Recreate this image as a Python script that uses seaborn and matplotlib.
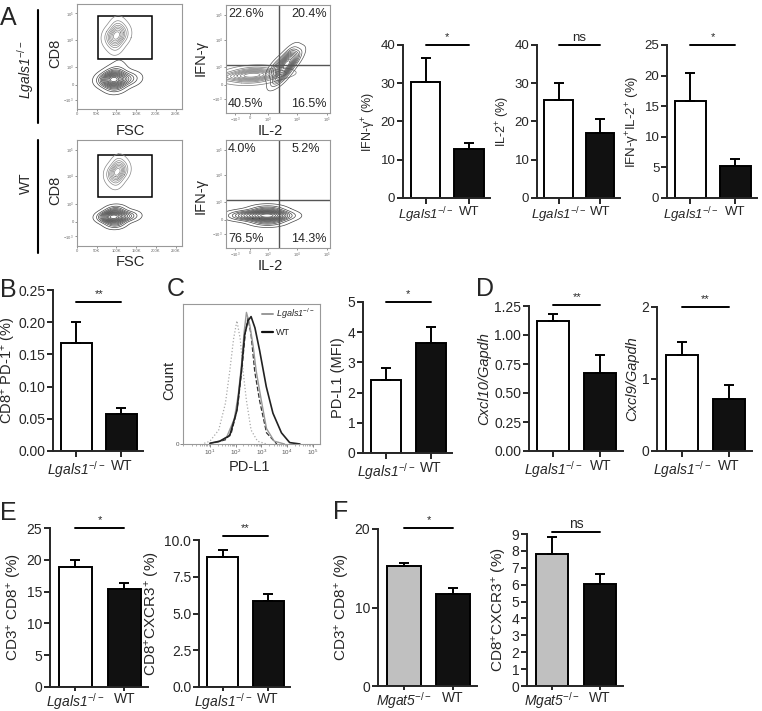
import numpy as np
import pandas as pd
import matplotlib
matplotlib.use("Agg")
import matplotlib.pyplot as plt
from matplotlib.patches import Rectangle
import seaborn as sns

# ---------------- data ----------------
LG = r"$\mathsf{Lgals1}^{-/-}$"
MG = r"$\mathsf{Mgat5}^{-/-}$"
WT = "WT"

# panel A bars
ifng_mean, ifng_err = [30.4, 12.8], [6.3, 1.5]
il2_mean, il2_err = [25.6, 17.1], [4.4, 3.55]
dp_mean, dp_err = [15.8, 5.2], [4.7, 1.1]
# panel B
pd1_mean, pd1_err = [0.168, 0.058], [0.033, 0.009]
# panel C
pdl1_mean, pdl1_err = [2.42, 3.65], [0.38, 0.53]
# panel D
cxcl10_mean, cxcl10_err = [1.125, 0.674], [0.06, 0.15]
cxcl9_mean, cxcl9_err = [1.333, 0.718], [0.185, 0.2]
# panel E
e_cd8_mean, e_cd8_err = [18.85, 15.35], [1.1, 1.05]
e_cxcr3_mean, e_cxcr3_err = [8.82, 5.87], [0.5, 0.46]
# panel F
f_cd8_mean, f_cd8_err = [15.29, 11.68], [0.42, 0.76]
f_cxcr3_mean, f_cxcr3_err = [7.81, 6.02], [1.03, 0.59]

# flow quadrant percentages [UL, UR, LL, LR]
quad_lgals = ["22.6%", "20.4%", "40.5%", "16.5%"]
quad_wt = ["4.0%", "5.2%", "76.5%", "14.3%"]
gate_fsc = [52, 190]            # FSC (K)
gate_cd8_top = [0.478, 0.885]
gate_cd8_bot = [0.46, 0.86]
quad_il2, quad_ifng = 0.51, 0.444

# flow populations (x, y, weight)
fsc_lg_cd8_x = [100, 82, 118, 100, 100, 90, 110]
fsc_lg_cd8_y = [0.70, 0.70, 0.70, 0.61, 0.79, 0.66, 0.74]
fsc_lg_cd8_w = [3, 1, 1, 1, 1, 1, 1]
fsc_lg_neg_x = [95, 76, 120, 140, 97, 97, 106, 106]
fsc_lg_neg_y = [0.28, 0.28, 0.285, 0.29, 0.22, 0.34, 0.42, 0.50]
fsc_lg_neg_w = [3, 1.5, 1, 0.4, 1, 1, 0.12, 0.06]
fsc_wt_cd8_x = [102, 86, 118, 102, 102, 92, 112]
fsc_wt_cd8_y = [0.70, 0.70, 0.70, 0.62, 0.78, 0.66, 0.74]
fsc_wt_cd8_w = [3, 1, 1, 1, 1, 1, 1]
fsc_wt_neg_x = [95, 76, 120, 140, 97, 97]
fsc_wt_neg_y = [0.275, 0.275, 0.28, 0.285, 0.215, 0.335]
fsc_wt_neg_w = [3, 1.5, 1, 0.4, 1, 1]

il2_lg_band_x = [0.25, 0.07, 0.43, 0.25, 0.25]
il2_lg_band_y = [0.35, 0.34, 0.36, 0.31, 0.39]
il2_lg_band_w = [2, 1, 1, 1, 1]
il2_lg_hi_x = [0.58, 0.48, 0.66, 0.56, 0.60, 0.50]
il2_lg_hi_y = [0.45, 0.42, 0.50, 0.37, 0.53, 0.33]
il2_lg_hi_w = [3, 1, 1, 1, 1, 1]
il2_wt_x = [0.40, 0.16, 0.27, 0.52, 0.40, 0.40]
il2_wt_y = [0.30, 0.30, 0.30, 0.30, 0.245, 0.355]
il2_wt_w = [3, 1, 1, 1, 1, 1]

# histogram (PD-L1 fluorescence, % of max)
h_dot_x = [6, 10, 22, 40, 59, 83, 112, 151, 195, 263, 398, 708, 1585]
h_dot_y = [0.5, 2, 10, 29, 52, 75, 88, 75, 52, 31, 10, 2, 0]
h_dash_x = [16, 40, 68, 100, 126, 178, 240, 302, 398, 550, 851, 1585, 3981]
h_dash_y = [1, 3, 8, 20, 30, 55, 80, 90, 78, 52, 31, 8, 0]
h_gray_x = [10, 25, 45, 89, 126, 166, 214, 263, 355, 479, 631, 1000, 1585, 3162, 7943]
h_gray_y = [0.5, 2, 5, 18, 35, 55, 80, 94, 85, 70, 52, 31, 11, 2, 0]
h_blk_x = [10, 24, 59, 112, 166, 224, 302, 398, 562, 851, 1549, 2818, 6026, 12589, 31623]
h_blk_y = [0.5, 2, 6, 24, 52, 78, 88, 91, 83, 67, 41, 22, 8, 1, 0]

# ---------------- style ----------------
W, H = 762, 711
sns.set_theme(style="ticks")
plt.rcParams["font.family"] = ["Liberation Sans", "DejaVu Sans"]
plt.rcParams["mathtext.fontset"] = "custom"
plt.rcParams["mathtext.rm"] = "Liberation Sans"
plt.rcParams["mathtext.it"] = "Liberation Sans:italic"
plt.rcParams["mathtext.sf"] = "Liberation Sans:italic"
plt.rcParams["mathtext.bf"] = "Liberation Sans:bold"
plt.rcParams["mathtext.default"] = "regular"

fig = plt.figure(figsize=(W / 100, H / 100), dpi=100)


def px_axes(x0, y0, x1, y1):
    return fig.add_axes([x0 / W, 1 - y1 / H, (x1 - x0) / W, (y1 - y0) / H])


def ftext(x, y, s, **kw):
    fig.text(x / W, 1 - y / H, s, **kw)


def bar_panel(box, cats, means, errs, colors, ylim, yticks, ytl, ylabel,
              sig, sig_y, fs=10, lfs=10, italic=False, tl=4, pad=1.5, lpad=2):
    ax = px_axes(*box)
    df = pd.DataFrame({"group": cats, "value": means})
    sns.barplot(data=df, x="group", y="value", hue="group",
                palette=dict(zip(cats, colors)), edgecolor="black",
                linewidth=1.4, width=0.68, errorbar=None, legend=False, ax=ax)
    ax.errorbar([0, 1], means, yerr=[[0, 0], errs], fmt="none", ecolor="black",
                elinewidth=1.4, capsize=3.6, capthick=1.4)
    ax.set_xlim(-0.52, 1.48)
    ax.set_ylim(*ylim)
    ax.set_yticks(yticks)
    ax.set_yticklabels(ytl)
    ax.set_xlabel("")
    ax.set_ylabel(ylabel, fontsize=lfs, labelpad=lpad,
                  fontstyle="italic" if italic else "normal")
    sns.despine(ax=ax)
    for s in ["left", "bottom"]:
        ax.spines[s].set_linewidth(1.4)
    ax.tick_params(axis="y", width=1.4, length=4, labelsize=fs, pad=1.5)
    ax.tick_params(axis="x", width=1.4, length=tl, labelsize=fs, pad=pad)
    ax.plot([0, 1], [sig_y, sig_y], color="black", lw=1.4, clip_on=False)
    if sig == "ns":
        ax.annotate("ns", (0.5, sig_y), xytext=(0, 1), textcoords="offset points",
                    ha="center", va="bottom", fontsize=fs, annotation_clip=False)
    else:
        ax.annotate(sig, (0.5, sig_y), xytext=(0, 2), textcoords="offset points",
                    ha="center", va="bottom", fontsize=8, annotation_clip=False)
    return ax


def flow_axes(box, xlim, xt, xtl, yt, ytl):
    ax = px_axes(*box)
    ax.set_xlim(*xlim)
    ax.set_ylim(0, 1)
    ax.set_xticks(xt)
    ax.set_xticklabels(xtl)
    ax.set_yticks(yt)
    ax.set_yticklabels(ytl)
    ax.tick_params(labelsize=3.0, length=1.5, width=0.5, pad=0.8, colors="#666")
    for s in ax.spines.values():
        s.set_color("#999")
        s.set_linewidth(0.8)
    return ax


def pop(ax, xs, ys, ws=None, levels=10, bw=1.0, color="#555", thresh=0.03):
    sns.kdeplot(x=xs, y=ys, weights=ws, ax=ax, levels=levels, thresh=thresh,
                color=color, linewidths=0.5, bw_method=bw)


ytk = [0.09, 0.23, 0.40, 0.66, 0.91]
ytkl = [r"$-10^3$", "0", r"$10^3$", r"$10^4$", r"$10^5$"]
fsc_t = [0, 50, 100, 150, 200, 250]
fsc_tl = ["0", "50K", "100K", "150K", "200K", "250K"]
il_xt = [0.087, 0.23, 0.40, 0.68, 0.97]
il_xtl = [r"$-10^3$", "0", r"$10^3$", r"$10^4$", r"$10^5$"]

# ---------------- panel A flow ----------------
rows = [
    (4, 109, 5, 113, gate_cd8_top, (fsc_lg_cd8_x, fsc_lg_cd8_y, fsc_lg_cd8_w),
     (fsc_lg_neg_x, fsc_lg_neg_y, fsc_lg_neg_w), quad_lgals),
    (140, 246, 140, 248, gate_cd8_bot, (fsc_wt_cd8_x, fsc_wt_cd8_y, fsc_wt_cd8_w),
     (fsc_wt_neg_x, fsc_wt_neg_y, fsc_wt_neg_w), quad_wt),
]
for row, (fy0, fy1, iy0, iy1, gate, cd8, neg, quads) in enumerate(rows):
    ax = flow_axes((77, fy0, 182, fy1), (0, 266), fsc_t, fsc_tl, ytk, ytkl)
    pop(ax, *cd8, levels=9, bw=1.0, color="#888")
    pop(ax, *neg, levels=14, bw=0.9, color="#444")
    ax.add_patch(Rectangle((gate_fsc[0], gate[0]), gate_fsc[1] - gate_fsc[0],
                           gate[1] - gate[0], fill=False, ec="black", lw=1.1))
    ax.set_xlim(0, 266)
    ax.set_ylim(0, 1)

    ax2 = flow_axes((226, iy0, 330, iy1), (0, 1), il_xt, il_xtl,
                    [0.13, 0.26, 0.426, 0.676, 0.907], ytkl)
    if row == 0:
        pop(ax2, il2_lg_band_x, il2_lg_band_y, il2_lg_band_w, levels=10, bw=1.0, color="#777")
        pop(ax2, il2_lg_hi_x, il2_lg_hi_y, il2_lg_hi_w, levels=13, bw=0.9, color="#555")
    else:
        pop(ax2, il2_wt_x, il2_wt_y, il2_wt_w, levels=14, bw=0.9, color="#444")
    ax2.axvline(quad_il2, color="#555", lw=1)
    ax2.axhline(quad_ifng, color="#555", lw=1)
    ax2.set_xlim(0, 1)
    ax2.set_ylim(0, 1)
    ax2.text(0.02, 0.97, quads[0], transform=ax2.transAxes, ha="left", va="top", fontsize=9)
    ax2.text(0.63, 0.97, quads[1], transform=ax2.transAxes, ha="left", va="top", fontsize=9)
    ax2.text(0.02, 0.03, quads[2], transform=ax2.transAxes, ha="left", va="bottom", fontsize=9)
    ax2.text(0.63, 0.03, quads[3], transform=ax2.transAxes, ha="left", va="bottom", fontsize=9)

ftext(55, 53, "CD8", rotation=90, ha="center", va="center", fontsize=10.5)
ftext(55, 190, "CD8", rotation=90, ha="center", va="center", fontsize=10.5)
ftext(130, 131, "FSC", ha="center", va="center", fontsize=10.5)
ftext(130, 262, "FSC", ha="center", va="center", fontsize=10.5)
ftext(201, 58, "IFN-γ", rotation=90, ha="center", va="center", fontsize=10.5)
ftext(201, 196, "IFN-γ", rotation=90, ha="center", va="center", fontsize=10.5)
ftext(270, 131, "IL-2", ha="center", va="center", fontsize=10.5)
ftext(270, 266, "IL-2", ha="center", va="center", fontsize=10.5)
ftext(26, 70, LG, rotation=90, ha="center", va="center", fontsize=10)
ftext(26, 183, "WT", rotation=90, ha="center", va="center", fontsize=10)
fig.add_artist(plt.Line2D([38 / W, 38 / W], [1 - 10 / H, 1 - 123 / H], color="black", lw=1.5))
fig.add_artist(plt.Line2D([38 / W, 38 / W], [1 - 140 / H, 1 - 253 / H], color="black", lw=1.5))

# ---------------- panel A bars ----------------
WB = ["#ffffff", "#111111"]
bar_panel((403, 45, 490, 198), [LG, WT], ifng_mean, ifng_err, WB, (0, 40),
          [0, 10, 20, 30, 40], ["0", "10", "20", "30", "40"], "IFN-γ$^{+}$ (%)",
          "*", 40, fs=9.5, lfs=9)
bar_panel((537, 45, 620, 198), [LG, WT], il2_mean, il2_err, WB, (0, 40),
          [0, 10, 20, 30, 40], ["0", "10", "20", "30", "40"], "IL-2$^{+}$ (%)",
          "ns", 40, fs=9.5, lfs=9)
bar_panel((667, 45, 757, 198), [LG, WT], dp_mean, dp_err, WB, (0, 25),
          [0, 5, 10, 15, 20, 25], ["0", "5", "10", "15", "20", "25"],
          "IFN-γ$^{+}$IL-2$^{+}$ (%)", "*", 25, fs=9.5, lfs=9.5)

# ---------------- panel B ----------------
bar_panel((53, 290, 143, 451), [LG, WT], pd1_mean, pd1_err, WB, (0, 0.25),
          [0, 0.05, 0.10, 0.15, 0.20, 0.25], ["0.00", "0.05", "0.10", "0.15", "0.20", "0.25"],
          "CD8$^{+}$ PD-1$^{+}$ (%)", "**", 0.232, fs=10, lfs=10.5, lpad=0.5)

# ---------------- panel C histogram ----------------
axh = px_axes(183, 304, 320, 444)
sns.lineplot(x=h_dot_x, y=h_dot_y, ax=axh, color="#aaa", lw=0.9, linestyle=":")
sns.lineplot(x=h_dash_x, y=h_dash_y, ax=axh, color="#333", lw=0.9, linestyle="--")
sns.lineplot(x=h_gray_x, y=h_gray_y, ax=axh, color="#999", lw=1.0)
sns.lineplot(x=h_blk_x, y=h_blk_y, ax=axh, color="#222", lw=1.2)
axh.set_xscale("log")
axh.set_xlim(0.9, 1.9e5)
axh.set_ylim(0, 100)
axh.set_xticks([1e1, 1e2, 1e3, 1e4, 1e5])
axh.set_xticklabels([r"$10^1$", r"$10^2$", r"$10^3$", r"$10^4$", r"$10^5$"])
axh.set_yticks([0])
axh.set_yticklabels(["0"])
axh.tick_params(labelsize=4.5, length=2, width=0.5, pad=1, colors="#555")
axh.tick_params(which="minor", length=1.2, width=0.4, colors="#777")
for s in axh.spines.values():
    s.set_color("#999")
    s.set_linewidth(0.8)
axh.set_xlabel("")
axh.set_ylabel("")
axh.plot([0.577, 0.657], [0.93, 0.93], transform=axh.transAxes, color="#999", lw=1.4)
axh.plot([0.577, 0.657], [0.80, 0.80], transform=axh.transAxes, color="#111", lw=1.6)
axh.text(0.68, 0.93, LG, transform=axh.transAxes, ha="left", va="center", fontsize=6.5)
axh.text(0.68, 0.80, "WT", transform=axh.transAxes, ha="left", va="center", fontsize=6.5)
ftext(169, 380, "Count", rotation=90, ha="center", va="center", fontsize=10.5)
ftext(250, 467, "PD-L1", ha="center", va="center", fontsize=10.5)

bar_panel((363, 302, 452, 453), [LG, WT], pdl1_mean, pdl1_err, WB, (0, 5),
          [0, 1, 2, 3, 4, 5], ["0", "1", "2", "3", "4", "5"], "PD-L1 (MFI)",
          "*", 5, fs=10, lfs=10.5)

# ---------------- panel D ----------------
bar_panel((529, 306, 623, 451), [LG, WT], cxcl10_mean, cxcl10_err, WB, (0, 1.25),
          [0, 0.25, 0.5, 0.75, 1.0, 1.25], ["0.00", "0.25", "0.50", "0.75", "1.00", "1.25"],
          "Cxcl10/Gapdh", "**", 1.26, fs=10, lfs=10.5, italic=True)
bar_panel((657, 307, 752, 451), [LG, WT], cxcl9_mean, cxcl9_err, WB, (0, 2),
          [0, 1, 2], ["0", "1", "2"], "Cxcl9/Gapdh", "**", 2.0, fs=10, lfs=10.5, italic=True)

# ---------------- panel E ----------------
bar_panel((50, 528, 148, 687), [LG, WT], e_cd8_mean, e_cd8_err, WB, (0, 25),
          [0, 5, 10, 15, 20, 25], ["0", "5", "10", "15", "20", "25"],
          "CD3$^{+}$ CD8$^{+}$ (%)", "*", 25, fs=10, lfs=11, tl=3, pad=0.3)
bar_panel((199, 540, 290, 687), [LG, WT], e_cxcr3_mean, e_cxcr3_err, WB, (0, 10),
          [0, 2.5, 5, 7.5, 10], ["0.0", "2.5", "5.0", "7.5", "10.0"],
          "CD8$^{+}$CXCR3$^{+}$ (%)", "**", 10.3, fs=10, lfs=11, tl=3, pad=0.3)

# ---------------- panel F ----------------
GB = ["#c0c0c0", "#111111"]
bar_panel((378, 529, 477, 686), [MG, WT], f_cd8_mean, f_cd8_err, GB, (0, 20),
          [0, 10, 20], ["0", "10", "20"], "CD3$^{+}$ CD8$^{+}$ (%)", "*", 20.1,
          fs=10, lfs=11, tl=3, pad=0.3)
bar_panel((527, 534, 623, 686), [MG, WT], f_cxcr3_mean, f_cxcr3_err, GB, (0, 9),
          list(range(10)), [str(i) for i in range(10)],
          "CD8$^{+}$CXCR3$^{+}$ (%)", "ns", 9.1, fs=10, lfs=11, tl=3, pad=0.3)

# ---------------- panel letters ----------------
for lx, ly, L in [(8, 18, "A"), (8, 290, "B"), (176, 289, "C"), (485, 289, "D"),
                  (8, 513, "E"), (341, 512, "F")]:
    ftext(lx, ly, L, ha="center", va="center", fontsize=18)

fig.savefig("out.png", dpi=100)
